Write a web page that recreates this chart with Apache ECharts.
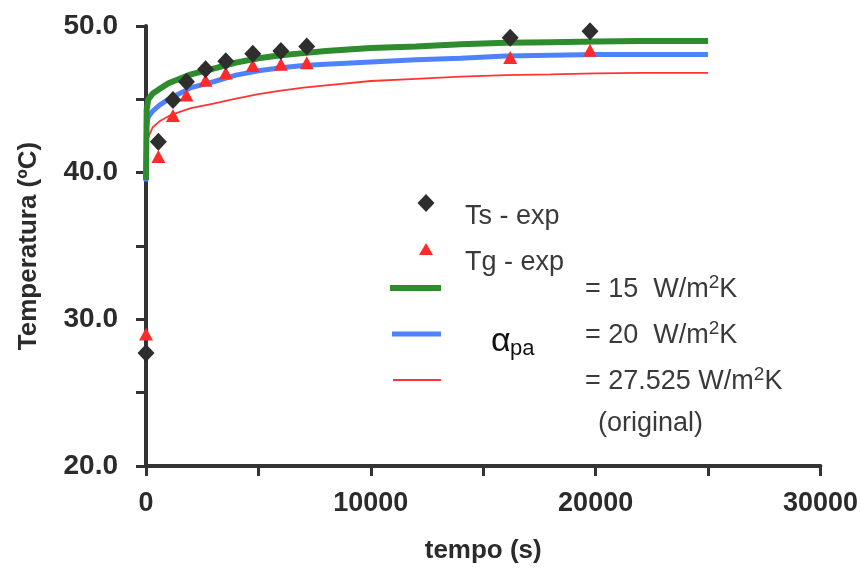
<!DOCTYPE html>
<html>
<head>
<meta charset="utf-8">
<script src="https://cdn.jsdelivr.net/npm/echarts@6/dist/echarts.min.js"></script>
<style>
  html, body { margin: 0; padding: 0; background: #fff; }
  #chart { width: 861px; height: 576px; }
</style>
</head>
<body>
<div id="chart"></div>
<script>
// Simulated temperature curves for three values of alpha_pa
const simTime = [0, 30, 100, 300, 600, 1000, 1500, 2000, 3000, 4000, 5000, 6000, 7000, 8000, 10000, 12000, 14000, 16000, 18000, 20000, 22000, 25000];
const alpha15 = [39.5, 44.3, 45.0, 45.4, 45.7, 46.1, 46.4, 46.7, 47.1, 47.5, 47.8, 48.0, 48.15, 48.3, 48.5, 48.6, 48.75, 48.85, 48.9, 48.95, 48.97, 48.97];
const alpha20 = [39.4, 43.2, 43.8, 44.2, 44.6, 45.0, 45.4, 45.8, 46.2, 46.65, 46.95, 47.15, 47.3, 47.4, 47.55, 47.7, 47.8, 47.95, 48.0, 48.05, 48.05, 48.05];
const alphaOriginal = [39.5, 41.8, 42.4, 43.1, 43.5, 43.85, 44.15, 44.4, 44.7, 45.05, 45.35, 45.6, 45.8, 45.95, 46.25, 46.4, 46.55, 46.65, 46.7, 46.77, 46.8, 46.8];

// Experimental measurements
const expTime = [0, 550, 1200, 1800, 2650, 3550, 4750, 6000, 7150, 16200, 19750];
const tsExp = [27.7, 42.1, 44.95, 46.2, 47.05, 47.6, 48.1, 48.3, 48.6, 49.2, 49.65];
const tgExp = [29.0, 41.1, 43.9, 45.3, 46.3, 46.8, 47.3, 47.4, 47.5, 47.85, 48.35];

const xTickLabels = [0, 10000, 20000, 30000];
const yTickLabels = [20, 30, 40, 50];

const pairs = (xs, ys) => xs.map((x, i) => [x, ys[i]]);

const axisColor = '#333333';
const textColor = '#3a3a3a';
const fontFamily = 'Liberation Sans, Arial, sans-serif';

const chart = echarts.init(document.getElementById('chart'), null, { renderer: 'canvas' });

const legendText = (x, y, str) => ({
  type: 'text', left: x, top: y,
  style: {
    text: str, fill: textColor, font: '27px ' + fontFamily, textVerticalAlign: 'middle'
  }
});
const unitText = (x, y, prefix) => ({
  type: 'text', x: x, y: y,
  style: {
    text: '{a|' + prefix + 'W/m}{s|2}{a|K}',
    rich: {
      a: { fontSize: 27, fontFamily: fontFamily, fill: textColor, lineHeight: 30, verticalAlign: 'bottom' },
      s: { fontSize: 19, fontFamily: fontFamily, fill: textColor, lineHeight: 30, verticalAlign: 'top' }
    },
    verticalAlign: 'middle'
  }
});

chart.setOption({
  animation: false,
  backgroundColor: '#ffffff',
  grid: { left: 146, right: 40, top: 26, bottom: 110, containLabel: false },
  xAxis: {
    type: 'value', min: 0, max: 30000, interval: 5000,
    name: 'tempo (s)', nameLocation: 'middle', nameGap: 72,
    nameTextStyle: { fontSize: 26, fontWeight: 'bold', color: '#2b2b2b', fontFamily: fontFamily },
    axisLine: { show: true, onZero: false, lineStyle: { color: axisColor, width: 4 } },
    axisTick: { show: true, length: 10, lineStyle: { color: axisColor, width: 3 } },
    axisLabel: {
      margin: 24, fontSize: 27, fontWeight: 'bold', color: '#2b2b2b', fontFamily: fontFamily,
      formatter: v => xTickLabels.includes(v) ? String(v) : ''
    },
    splitLine: { show: false }
  },
  yAxis: {
    type: 'value', min: 20, max: 50, interval: 5,
    name: 'Temperatura (ºC)', nameLocation: 'middle', nameGap: 104, nameRotate: 90,
    nameTextStyle: { fontSize: 26, fontWeight: 'bold', color: '#2b2b2b', fontFamily: fontFamily },
    axisLine: { show: true, onZero: false, lineStyle: { color: axisColor, width: 4 } },
    axisTick: { show: true, length: 10, lineStyle: { color: axisColor, width: 3 } },
    axisLabel: {
      margin: 28, fontSize: 28, fontWeight: 'bold', color: '#2b2b2b', fontFamily: fontFamily,
      formatter: v => yTickLabels.includes(v) ? v.toFixed(1) : ''
    },
    splitLine: { show: false }
  },
  series: [
    {
      name: 'alpha 27.525', type: 'line', data: pairs(simTime, alphaOriginal),
      showSymbol: false, lineStyle: { color: '#ff3535', width: 1.8 }, z: 2
    },
    {
      name: 'alpha 20', type: 'line', data: pairs(simTime, alpha20),
      showSymbol: false, lineStyle: { color: '#4f82ff', width: 5 }, z: 3
    },
    {
      name: 'alpha 15', type: 'line', data: pairs(simTime, alpha15),
      showSymbol: false, lineStyle: { color: '#2e8b2e', width: 6 }, z: 4
    },
    {
      name: 'Tg - exp', type: 'scatter', data: pairs(expTime, tgExp),
      symbol: 'triangle', symbolSize: [14, 13], itemStyle: { color: '#ff2a2a', opacity: 1 }, z: 5
    },
    {
      name: 'Ts - exp', type: 'scatter', data: pairs(expTime, tsExp),
      symbol: 'diamond', symbolSize: [17, 18], itemStyle: { color: '#2e2e2e', opacity: 1 }, z: 6
    }
  ],
  graphic: [
    { type: 'polygon', shape: { points: [[426, 194], [434.5, 203], [426, 212], [417.5, 203]] }, style: { fill: '#2e2e2e' } },
    legendText(465, 203, 'Ts - exp'),
    { type: 'polygon', shape: { points: [[426, 243], [433, 255], [419, 255]] }, style: { fill: '#ff2a2a' } },
    legendText(465, 249, 'Tg - exp'),
    { type: 'line', shape: { x1: 390, y1: 288, x2: 441, y2: 288 }, style: { stroke: '#2e8b2e', lineWidth: 6 } },
    { type: 'line', shape: { x1: 392, y1: 334, x2: 441, y2: 334 }, style: { stroke: '#4f82ff', lineWidth: 5 } },
    { type: 'line', shape: { x1: 393, y1: 380, x2: 441, y2: 380 }, style: { stroke: '#ff3535', lineWidth: 2 } },
    unitText(585, 288, '= 15  '),
    unitText(585, 334, '= 20  '),
    unitText(585, 380, '= 27.525 '),
    legendText(598, 410, '(original)'),
    { type: 'text', x: 491, y: 342, style: { text: 'α', fill: '#111111', font: '34px ' + fontFamily, textVerticalAlign: 'middle' } },
    { type: 'text', x: 510, y: 349, style: { text: 'pa', fill: '#111111', font: '22px ' + fontFamily, textVerticalAlign: 'middle' } }
  ]
});
</script>
</body>
</html>
